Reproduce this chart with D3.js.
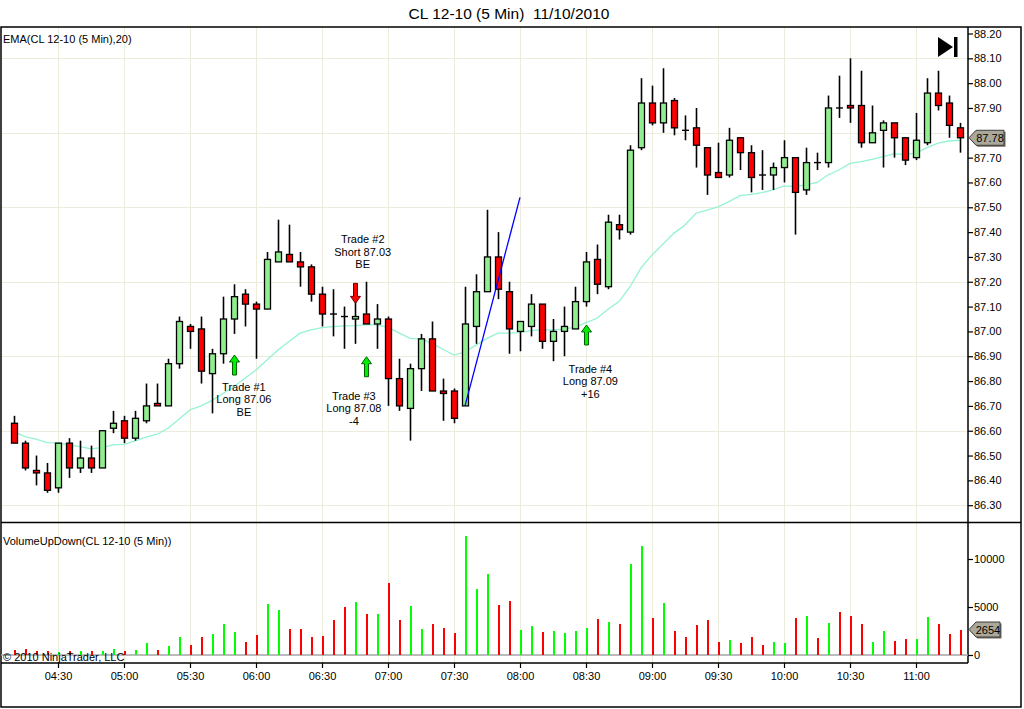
<!DOCTYPE html>
<html>
<head>
<meta charset="utf-8">
<script src="https://cdn.jsdelivr.net/npm/d3@7"></script>
<style>
	body { margin: 0; background: #fff; }
	text { font-family: "Liberation Sans", Arial, sans-serif; }
</style>
</head>
<body>
<div id="chart-area"></div>
<script>

// 5 minute bars, 04:10 .. 11:20
let opens  = [86.63,86.55,86.44,86.43,86.37,86.55,86.45,86.49,86.45,86.61,86.64,86.57,86.64,86.71,86.70,86.87,87.02,87.01,86.83,86.91,
	87.05,87.15,87.11,87.09,87.28,87.31,87.28,87.26,87.15,87.07,87.06,87.05,87.07,87.03,87.05,86.81,86.69,86.85,86.97,86.76,
	86.76,86.70,87.02,87.16,87.30,87.16,87.00,87.02,87.11,86.96,87.00,87.01,87.12,87.29,87.18,87.43,87.40,87.74,87.92,87.84,
	87.93,87.81,87.82,87.74,87.64,87.63,87.78,87.72,87.63,87.63,87.66,87.70,87.57,87.68,87.68,87.90,87.91,87.91,87.76,87.81,
	87.84,87.78,87.70,87.76,87.96,87.92,87.82]
let highs  = [86.66,86.56,86.50,86.47,86.55,86.57,86.56,86.54,86.60,86.68,86.66,86.68,86.79,86.79,86.89,87.06,87.03,87.06,86.93,87.14,
	87.19,87.17,87.12,87.32,87.45,87.43,87.32,87.27,87.18,87.17,87.10,87.12,87.20,87.11,87.06,86.89,86.87,86.99,87.04,86.81,
	86.77,87.18,87.23,87.49,87.40,87.20,87.04,87.15,87.11,87.05,87.10,87.18,87.32,87.35,87.47,87.47,87.75,88.02,87.99,88.06,
	87.94,87.87,87.90,87.74,87.76,87.82,87.78,87.75,87.73,87.68,87.77,87.70,87.74,87.72,87.95,88.03,88.10,88.05,87.91,87.85,
	87.84,87.78,87.88,88.02,88.05,87.95,87.84]
let lows   = [86.55,86.44,86.38,86.35,86.35,86.41,86.43,86.43,86.45,86.59,86.55,86.56,86.63,86.70,86.70,86.85,86.93,86.79,86.67,86.87,
	86.99,87.02,86.89,87.09,87.28,87.28,87.18,87.12,87.02,86.98,86.93,86.95,87.03,86.93,86.70,86.68,86.56,86.76,86.76,86.64,
	86.63,86.70,86.95,87.16,87.13,86.91,86.92,86.98,86.93,86.88,86.90,87.01,87.10,87.15,87.17,87.37,87.39,87.73,87.83,87.80,
	87.79,87.77,87.66,87.55,87.62,87.62,87.65,87.56,87.57,87.57,87.60,87.39,87.55,87.65,87.66,87.86,87.84,87.74,87.76,87.66,
	87.70,87.67,87.69,87.75,87.89,87.78,87.72]
let closes = [86.55,86.45,86.43,86.36,86.55,86.45,86.49,86.45,86.60,86.63,86.57,86.65,86.70,86.70,86.87,87.04,87.00,86.84,86.91,87.05,
	87.14,87.11,87.09,87.29,87.32,87.28,87.26,87.15,87.07,87.07,87.06,87.06,87.03,87.05,86.81,86.70,86.85,86.97,86.76,86.75,
	86.65,87.03,87.16,87.30,87.17,87.01,87.04,87.11,86.96,87.00,87.02,87.12,87.28,87.19,87.44,87.41,87.73,87.92,87.84,87.92,
	87.82,87.81,87.75,87.63,87.62,87.77,87.72,87.62,87.63,87.66,87.70,87.56,87.68,87.68,87.90,87.90,87.90,87.76,87.80,87.84,
	87.78,87.69,87.77,87.96,87.91,87.83,87.78]
let volumes = [520,660,420,420,310,420,420,420,420,660,420,555,1250,555,970,1870,1040,1870,2190,3230,
	2390,1350,2080,5310,4680,2700,2700,1870,1980,3640,5000,5520,4270,4270,7500,3640,5100,2700,3230,2810,
	2290,12390,6870,8430,5190,5605,2595,3010,2390,2490,2285,2490,2800,3740,3425,3220,9450,11315,3840,5400,
	2490,1870,3115,3635,1350,1560,1245,1870,1040,1350,1245,3840,4050,1765,3320,4465,4050,3220,1350,2490,
	1455,1660,1660,3945,3220,2180,2654]
// EMA(20) as plotted
let ema = [86.596,86.576,86.566,86.552,86.551,86.543,86.536,86.527,86.532,86.543,86.545,86.559,86.574,86.586,86.610,86.646,86.684,86.700,86.722,86.750,
	86.778,86.811,86.845,86.885,86.925,86.959,86.993,87.006,87.015,87.019,87.022,87.023,87.026,87.026,87.016,86.994,86.972,86.970,86.952,86.928,
	86.905,86.918,86.945,86.972,86.993,86.993,86.995,87.003,87.006,87.006,87.009,87.017,87.035,87.053,87.089,87.120,87.180,87.256,87.308,87.352,
	87.396,87.429,87.476,87.489,87.502,87.523,87.547,87.552,87.559,87.570,87.586,87.583,87.590,87.600,87.630,87.650,87.677,87.684,87.693,87.704,
	87.715,87.713,87.718,87.740,87.758,87.767,87.770]

// trade markers (bar index, price)
let tradeBars = [20, 31, 32, 52]
let tradeDirs = ["up", "down", "up", "up"]
let tradeArrowPrices = [86.905, 87.113, 86.898, 87.026]
let tradeLabels = [
	["Trade #1", "Long 87.06", "BE"],
	["Trade #2", "Short 87.03", "BE"],
	["Trade #3", "Long 87.08", "-4"],
	["Trade #4", "Long 87.09", "+16"]
]
let tradeTextBars = [20.9, 31.7, 30.9, 52.4]
let tradeTextPrices = [86.727, 87.320, 86.691, 86.799]

// hand drawn trend line
let trendBars = [41, 46]
let trendPrices = [86.70, 87.54]

let priceTicks = d3.range(0, 20).map(k => +(86.30 + k * 0.1).toFixed(2))
let priceGrid = d3.range(0, 7).map(k => +(86.30 + k * 0.3).toFixed(2))
let volumeTicks = [0, 5000, 10000]

let width = 1024,
	height = 709;

let start = new Date(2010, 10, 10, 4, 10)
let barTime = i => new Date(+start + i * 5 * 60000)
let times = opens.map((d, i) => barTime(i))

let svg = d3.select("#chart-area").append("svg")
	.attr("width", width)
	.attr("height", height)

svg.append("rect").attr("width", width).attr("height", height).attr("fill", "#fff")

let x = d3.scaleTime()
	.domain([times[0], times[times.length - 1]])
	.range([14, 960])

let y = d3.scaleLinear()
	.domain([86.30, 88.20])
	.range([505.2, 33.5])

let yv = d3.scaleLinear()
	.domain([0, 10000])
	.range([655, 559])

let left = 1, right = 1021, axisX = 968,
	top1 = 27, bottom1 = 522.5, bottom2 = 663, bottomAll = 707

let gridColor = "#ecebdc"
let lastClose = closes[closes.length - 1],
	lastVolume = volumes[volumes.length - 1]

// grid
let timeTicks = x.ticks(d3.timeMinute.every(30))
svg.append("g").selectAll("line").data(timeTicks).enter()
	.append("line")
	.attr("x1", d => Math.round(x(d)) + 0.5).attr("x2", d => Math.round(x(d)) + 0.5)
	.attr("y1", top1).attr("y2", bottom2)
	.attr("stroke", gridColor)

svg.append("g").selectAll("line").data(priceGrid).enter()
	.append("line")
	.attr("x1", left).attr("x2", axisX)
	.attr("y1", d => Math.round(y(d)) + 0.5).attr("y2", d => Math.round(y(d)) + 0.5)
	.attr("stroke", gridColor)

// frame
let frame = svg.append("g").attr("stroke", "#000").attr("stroke-width", 1.5).attr("fill", "none")
frame.append("rect").attr("x", left).attr("y", top1).attr("width", right - left).attr("height", bottomAll - top1)
frame.append("line").attr("x1", left).attr("x2", right).attr("y1", bottom1).attr("y2", bottom1)
frame.append("line").attr("x1", left).attr("x2", axisX).attr("y1", bottom2).attr("y2", bottom2)
frame.append("line").attr("x1", axisX).attr("x2", axisX).attr("y1", top1).attr("y2", bottom2)

// axes (the tick hidden behind the last-price tag is left out)
let yAxis = d3.axisRight(y)
	.tickValues(priceTicks.filter(p => Math.abs(y(p) - y(lastClose)) > 9))
	.tickFormat(d3.format(".2f"))
	.tickSize(5)
	.tickPadding(1)

svg.append("g")
	.attr("class", "axis y-axis")
	.attr("transform", "translate(" + axisX + ",0)")
	.call(yAxis)

let vAxis = d3.axisRight(yv)
	.tickValues(volumeTicks)
	.tickFormat(d3.format("d"))
	.tickSize(5)
	.tickPadding(1)

svg.append("g")
	.attr("class", "axis v-axis")
	.attr("transform", "translate(" + axisX + ",0)")
	.call(vAxis)

let xAxis = d3.axisBottom(x)
	.ticks(d3.timeMinute.every(30))
	.tickFormat(d3.timeFormat("%H:%M"))
	.tickSize(5)
	.tickPadding(4)

svg.append("g")
	.attr("class", "axis x-axis")
	.attr("transform", "translate(0," + bottom2 + ")")
	.call(xAxis)

svg.selectAll(".axis .domain").remove()
svg.selectAll(".axis text").attr("font-size", 11).attr("font-family", "Liberation Sans, Arial, sans-serif").attr("fill", "#000")
svg.selectAll(".axis line").attr("stroke", "#000").attr("stroke-width", 1.2)

// volume baseline
svg.append("line")
	.attr("x1", left).attr("x2", axisX)
	.attr("y1", yv(0)).attr("y2", yv(0))
	.attr("stroke", "#a4a4a4").attr("stroke-width", 1.5)

// EMA
let emaLine = d3.line()
	.x((d, i) => x(times[i]))
	.y(d => y(d))

svg.append("path")
	.datum(ema)
	.attr("d", emaLine)
	.attr("fill", "none")
	.attr("stroke", "#93f3d3")
	.attr("stroke-width", 1.3)

// candles
let bars = opens.map((o, i) => ({t: times[i], o: o, h: highs[i], l: lows[i], c: closes[i], v: volumes[i]}))

let candles = svg.append("g").selectAll("g").data(bars).enter().append("g")

candles.append("line")
	.attr("x1", d => Math.round(x(d.t)) + 0.5).attr("x2", d => Math.round(x(d.t)) + 0.5)
	.attr("y1", d => y(d.h)).attr("y2", d => y(d.l))
	.attr("stroke", "#000").attr("stroke-width", 1.6)

candles.filter(d => d.o !== d.c).append("rect")
	.attr("x", d => Math.round(x(d.t)) - 2.5)
	.attr("width", 6)
	.attr("y", d => y(Math.max(d.o, d.c)))
	.attr("height", d => Math.max(1, y(Math.min(d.o, d.c)) - y(Math.max(d.o, d.c))))
	.attr("fill", d => d.c > d.o ? "#90ee90" : "#ff0000")
	.attr("stroke", "#000").attr("stroke-width", 1.3)

candles.filter(d => d.o === d.c).append("line")
	.attr("x1", d => Math.round(x(d.t)) - 3).attr("x2", d => Math.round(x(d.t)) + 4)
	.attr("y1", d => y(d.o)).attr("y2", d => y(d.o))
	.attr("stroke", "#000").attr("stroke-width", 1.4)

// volume
svg.append("g").selectAll("rect").data(bars).enter()
	.append("rect")
	.attr("x", d => Math.round(x(d.t)) - 0.5)
	.attr("width", 2)
	.attr("y", d => yv(d.v))
	.attr("height", d => yv(0) - yv(d.v))
	.attr("fill", d => d.c > d.o ? "#00ff00" : "#ff0000")
	.attr("shape-rendering", "crispEdges")

// trend line
svg.append("line")
	.attr("x1", x(barTime(trendBars[0]))).attr("y1", y(trendPrices[0]))
	.attr("x2", x(barTime(trendBars[1]))).attr("y2", y(trendPrices[1]))
	.attr("stroke", "#0000ff").attr("stroke-width", 1.3)

// trade arrows and text
let upArrow = "M0,0 L5,7 L2,7 L2,20 L-2,20 L-2,7 L-5,7 Z"
let downArrow = "M0,0 L5,-7 L2,-7 L2,-20 L-2,-20 L-2,-7 L-5,-7 Z"

tradeBars.forEach((b, k) => {
	let ax = Math.round(x(barTime(b))) + 0.5
	let ay = y(tradeArrowPrices[k])
	let up = tradeDirs[k] === "up"
	svg.append("path")
		.attr("d", up ? upArrow : downArrow)
		.attr("transform", "translate(" + ax + "," + ay + ")")
		.attr("fill", up ? "#00ee00" : "#ff0000")
		.attr("stroke", up ? "#006000" : "#700000")
		.attr("stroke-width", 1)

	let tx = x(barTime(tradeTextBars[k]))
	let ty = y(tradeTextPrices[k])
	svg.append("g").selectAll("text").data(tradeLabels[k]).enter()
		.append("text")
		.attr("x", tx)
		.attr("y", (d, j) => ty + (j - 1) * 12.5 + 4)
		.attr("text-anchor", "middle")
		.attr("font-size", 11)
		.text(d => d)
})

// last value tags
function tag(yc, label, w) {
	let pts = [[axisX + 1, yc], [axisX + 8, yc - 7.5], [axisX + w, yc - 7.5], [axisX + w, yc + 7.5], [axisX + 8, yc + 7.5]]
	svg.append("polygon")
		.attr("points", pts.map(p => (p[0] + 1.5) + "," + (p[1] + 1.5)).join(" "))
		.attr("fill", "#6e6b60")
	svg.append("polygon")
		.attr("points", pts.map(p => p.join(",")).join(" "))
		.attr("fill", "#aca899").attr("stroke", "#3c3c3c").attr("stroke-width", 1)
	svg.append("text")
		.attr("x", axisX + 8 + (w - 8) / 2)
		.attr("y", yc + 4)
		.attr("text-anchor", "middle")
		.attr("font-size", 11)
		.text(label)
}
tag(y(lastClose), d3.format(".2f")(lastClose), 36)
tag(yv(lastVolume), lastVolume, 32)

// go-to-end icon
svg.append("path")
	.attr("d", "M938,37 L953,47 L938,57 Z")
	.attr("fill", "#000")
svg.append("rect")
	.attr("x", 954).attr("y", 37).attr("width", 3.5).attr("height", 20)
	.attr("fill", "#000")

// titles
svg.append("text")
	.attr("x", 509).attr("y", 18.5)
	.attr("text-anchor", "middle")
	.attr("font-size", 15.5)
	.style("white-space", "pre")
	.text("CL 12-10 (5 Min)  11/10/2010")

svg.append("text").attr("x", 3).attr("y", 43).attr("font-size", 11)
	.text("EMA(CL 12-10 (5 Min),20)")

svg.append("text").attr("x", 3).attr("y", 545).attr("font-size", 11)
	.text("VolumeUpDown(CL 12-10 (5 Min))")

svg.append("text").attr("x", 3).attr("y", 660.5).attr("font-size", 11)
	.text("\u00a9 2010 NinjaTrader, LLC")

</script>
</body>
</html>
